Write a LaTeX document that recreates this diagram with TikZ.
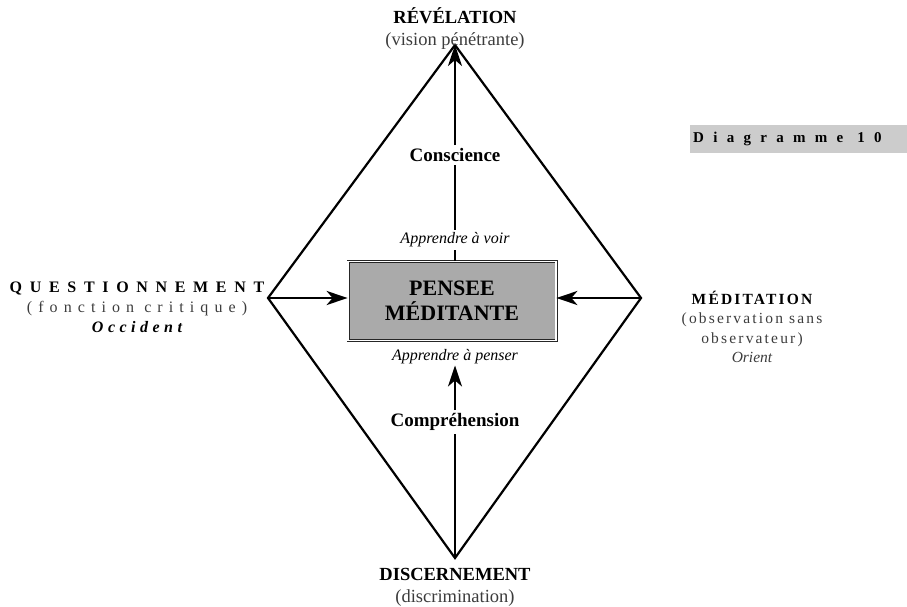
\documentclass[tikz,border=0pt]{standalone}
\usepackage{fontspec}
\setmainfont{Liberation Serif}
\newfontfamily\trackwide[LetterSpace=48]{Liberation Serif}
\newfontfamily\trackmid[LetterSpace=38]{Liberation Serif}
\newfontfamily\tracknarrow[LetterSpace=28]{Liberation Serif}
\newfontfamily\tracklight[LetterSpace=14]{Liberation Serif}
\newfontfamily\tracktag[LetterSpace=62]{Liberation Serif}
\usetikzlibrary{arrows.meta,positioning}
\definecolor{boxgray}{RGB}{170,170,170}
\definecolor{tagcolor}{RGB}{204,204,204}
\definecolor{inkgray}{RGB}{60,60,60}

\begin{document}
\begin{tikzpicture}[x=1pt, y=-1pt,
    edge/.style={line width=2.2pt, line join=miter},
    flow/.style={line width=2.5pt, -{Stealth[length=21pt, width=14pt, inset=6pt]}},
    pole/.style={align=center, inner sep=0pt, font=\fontsize{18.5}{22}\selectfont},
    side/.style={align=center, inner sep=0pt, font=\fontsize{16}{20}\selectfont},
    midlabel/.style={fill=white, inner sep=3pt, font=\fontsize{19}{20}\selectfont},
    waylabel/.style={fill=white, inner sep=3pt, font=\fontsize{16}{18}\selectfont\itshape},
    core/.style={draw=black!85, double, double distance=1.6pt, line width=0.7pt, fill=boxgray,
        minimum width=208pt, minimum height=79pt, align=center, inner sep=0pt,
        font=\fontsize{22}{25}\selectfont\bfseries},
    tag/.style={fill=tagcolor, text width=230pt, align=left, minimum height=28pt, inner sep=3pt,
        font=\fontsize{15}{16}\selectfont},
]
    \useasboundingbox (0,0) rectangle (907,607);

    % Diamond corners
    \coordinate (top) at (455,45);
    \coordinate (left) at (268,298);
    \coordinate (right) at (641,298);
    \coordinate (bottom) at (455,558);

    \draw[edge] (top) -- (right) -- (bottom) -- (left) -- cycle;

    % Centre
    \node[core] (pensee) at (452,301) {PENSEE\\MÉDITANTE};

    % Poles
    \node[pole] (revelation) at (455,29) {\bfseries RÉVÉLATION\\{\color{inkgray}(vision pénétrante)}};
    \node[pole] (discernement) at (455,587) {\bfseries DISCERNEMENT\\{\color{inkgray}(discrimination)}};
    \node[side] (questionnement) at (137,307) {{\trackwide\bfseries QUESTIONNEMENT}\\
        {\trackmid\color{inkgray}(fonction critique)}\\
        {\tracknarrow\bfseries\itshape Occident}};
    \node[side, font=\fontsize{15.5}{19.5}\selectfont] (meditation) at (752,327) {{\tracklight\bfseries MÉDITATION}\\
        {\tracklight\color{inkgray}(observation sans}\\
        {\tracklight\color{inkgray}observateur)}\\
        {\itshape\color{inkgray}Orient}};

    % Axis labels
    \node[midlabel] (conscience) at (455,155) {\bfseries Conscience};
    \node[waylabel] (voir) at (455,240) {Apprendre à voir};
    \node[waylabel, inner sep=1pt] (penser) at (455,357) {Apprendre à penser};
    \node[midlabel] (comprehension) at (455,422) {\bfseries Compréhension};

    % Arrows
    \draw[line width=2.5pt] (pensee.north -| top) -- (voir);
    \draw[line width=2.5pt] (voir) -- (conscience);
    \draw[flow] (conscience) -- (top);
    \draw[line width=2.5pt] (bottom) -- (comprehension);
    \draw[flow] (comprehension) -- (penser);
    \draw[flow] (left) -- (left -| pensee.west);
    \draw[flow] (right) -- (right -| pensee.east);

    % Tag
    \node[tag, anchor=west] (diagramme) at (690,139) {\tracktag\bfseries \mbox{Diagramme}\hspace{14pt}\mbox{10}};
\end{tikzpicture}
\end{document}
